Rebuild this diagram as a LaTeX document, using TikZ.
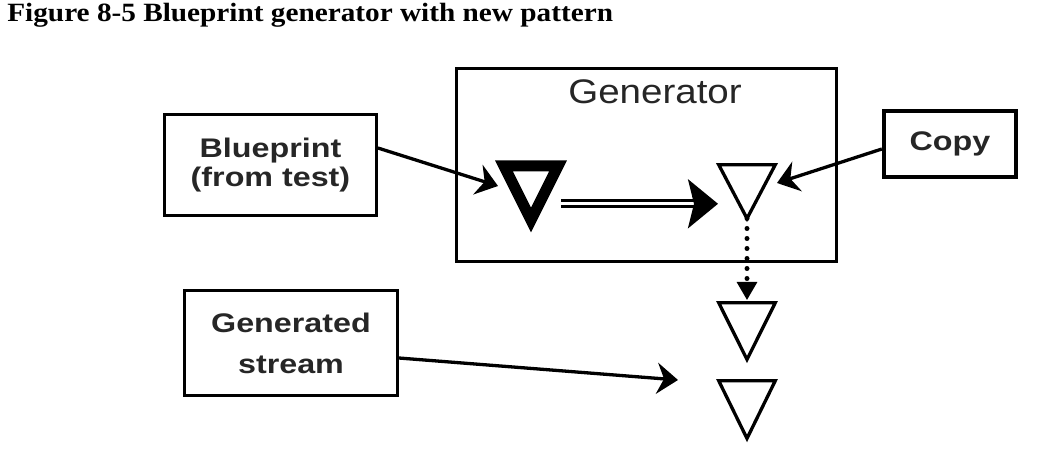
\documentclass[tikz,border=0pt]{standalone}
\usepackage{fontspec}
\setmainfont{Liberation Serif}
\newfontfamily\captionfnt[FakeStretch=1.11]{Liberation Serif}
\newfontfamily\boxfnt[FakeStretch=1.2]{Liberation Sans}
\newfontfamily\genfnt[FakeStretch=1.13]{Liberation Sans}
\usetikzlibrary{arrows.meta}

\begin{document}
\begin{tikzpicture}[
  box/.style     = {draw, line width=0.066cm, inner sep=0pt, align=center, text=black!85,
                    font=\boxfnt\bfseries\fontsize{15.3}{16.7}\selectfont},
  tri/.style     = {draw, line width=0.066cm, line join=miter},
  pointer/.style = {line width=0.066cm,
                    -{Stealth[length=0.42cm, width=0.62cm, inset=0.14cm]}}
]
  \useasboundingbox (0,0) rectangle (21.06,9.06);

  % Titulo
  \node[anchor=base west, inner sep=0pt,
        font=\captionfnt\bfseries\fontsize{15}{18}\selectfont] (title) at (0.14,8.62)
        {Figure 8-5 Blueprint generator with new pattern};

  % Gerador
  \node[draw, line width=0.054cm, minimum width=7.61cm, minimum height=3.87cm] (gen) at (12.93,5.76) {};
  \node[anchor=base, inner sep=0pt, text=black!85,
        font=\genfnt\fontsize{19.4}{23}\selectfont] (genlabel) at (13.10,6.98) {Generator};

  % Caixas
  \node[box, minimum width=4.23cm, minimum height=2.01cm] (bp) at (5.41,5.76) {Blueprint\\(from test)};
  \node[box, line width=0.086cm, minimum width=2.64cm, minimum height=1.32cm] (cp) at (19.00,6.18) {Copy};
  \node[box, minimum width=4.25cm, minimum height=2.09cm,
        font=\boxfnt\bfseries\fontsize{15.3}{23.3}\selectfont] (gs) at (5.82,2.20) {Generated\\stream};

  % Triangulos
  \draw[tri, line width=0.22cm] (10.08,5.74) -- (11.16,5.74) -- (10.62,4.66) -- cycle;
  \draw[tri] (14.374,5.766) -- (15.506,5.766) -- (14.94,4.69) -- cycle;
  \draw[tri] (14.374,3.006) -- (15.506,3.006) -- (14.94,1.87) -- cycle;
  \draw[tri] (14.374,1.446) -- (15.506,1.446) -- (14.94,0.29) -- cycle;

  % Pontos de ligacao
  \coordinate (bpTip)  at (9.96,5.34);
  \coordinate (cpTip)  at (15.54,5.40);
  \coordinate (gsTip)  at (13.56,1.46);
  \coordinate (dblA)   at (11.22,4.984);
  \coordinate (dblB)   at (14.36,4.984);
  \coordinate (t1apex) at (14.94,4.69);
  \coordinate (t2top)  at (14.94,3.06);

  % Setas
  \draw[pointer] ([yshift=0.34cm]bp.east) -- (bpTip);
  \draw[pointer] ([yshift=-0.1cm]cp.west) -- (cpTip);
  \draw[pointer] ([yshift=-0.3cm]gs.east) -- (gsTip);
  \draw[line width=0.06cm, double, double distance=0.052cm,
        -{Stealth[length=0.6cm, width=0.98cm, inset=0.12cm]}] (dblA) -- (dblB);
  \draw[line width=0.1cm, line cap=round, dash pattern=on 0pt off 0.2cm] (t1apex) -- ([yshift=0.3cm]t2top);
  \draw[-{Triangle[length=0.36cm, width=0.4cm]}, line width=0.06cm] ([yshift=0.32cm]t2top) -- (t2top);
\end{tikzpicture}
\end{document}
